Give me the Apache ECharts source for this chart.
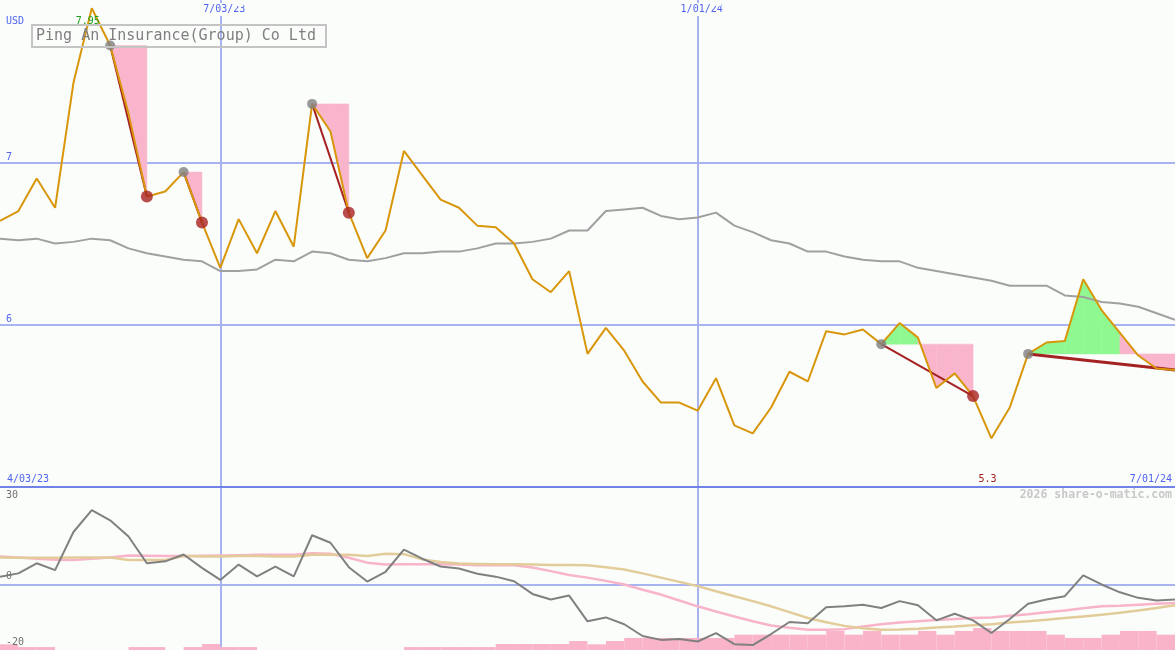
<!DOCTYPE html>
<html><head><meta charset="utf-8">
<script src="https://cdn.jsdelivr.net/npm/echarts@6/dist/echarts.min.js"></script>
<style>html,body{margin:0;padding:0;background:#fbfdfb}#c{width:1175px;height:650px}</style>
</head><body><div id="c"></div>
<script>
// ---- categories: weekly points ----
const weeks = [];
(function(){ const d0 = Date.UTC(2023,3,10); for (let k=0;k<65;k++){ const d=new Date(d0+k*7*86400000); weeks.push(d.toISOString().slice(0,10)); } })();
const intervals = weeks.slice(0,64);

// ---- tick labels ----
const tickIndex = [0, 12, 38, 64];
const tickText  = ['4/03/23', '7/03/23', '1/01/24', '7/01/24'];
const priceTicks = [6, 7];
const oscTicksLow = [0, -20];
const oscTicksTop = [30];

// ---- price (USD) ----
const price = [6.64,6.70,6.90,6.72,7.49,7.95,7.72,7.30,6.79,6.82,
               6.94,6.63,6.35,6.65,6.44,6.70,6.48,7.36,7.19,6.69,
               6.41,6.58,7.07,6.92,6.77,6.72,6.61,6.60,6.50,6.28,
               6.20,6.33,5.82,5.98,5.84,5.65,5.52,5.52,5.47,5.67,
               5.38,5.33,5.49,5.71,5.65,5.96,5.94,5.97,5.88,6.01,
               5.92,5.61,5.70,5.56,5.30,5.49,5.82,5.89,5.90,6.28,
               6.09,5.95,5.81,5.73,5.72];
// ---- moving average ----
const avg = [6.53,6.52,6.53,6.50,6.51,6.53,6.52,6.47,6.44,6.42,
             6.40,6.39,6.33,6.33,6.34,6.40,6.39,6.45,6.44,6.40,
             6.39,6.41,6.44,6.44,6.45,6.45,6.47,6.50,6.50,6.51,
             6.53,6.58,6.58,6.70,6.71,6.72,6.67,6.65,6.66,6.69,
             6.61,6.57,6.52,6.50,6.45,6.45,6.42,6.40,6.39,6.39,
             6.35,6.33,6.31,6.29,6.27,6.24,6.24,6.24,6.18,6.17,
             6.14,6.13,6.11,6.07,6.03];
// ---- signals ----
const sigStart = [6, 10, 17, 48, 56];
const sigEnd   = [8, 11, 19, 53, 64];
const sigClosed = [true, true, true, true, false];

// ---- lower panel ----
const osc = [2.5,3.5,6.6,4.5,16.2,22.9,19.8,14.8,6.6,7.2,
             9.3,5.2,1.5,6.2,2.6,5.6,2.6,15.2,12.9,5.4,
             1.0,4.0,10.8,8.0,5.6,5.0,3.4,2.5,1.1,-2.8,
             -4.5,-3.3,-11.2,-10.0,-12.1,-15.7,-16.9,-16.6,-17.4,-14.8,
             -18.2,-18.5,-15.1,-11.4,-11.8,-6.9,-6.6,-6.1,-7.1,-5.0,
             -6.3,-10.9,-8.9,-10.9,-14.8,-10.5,-5.8,-4.5,-3.5,2.9,
             0.1,-2.3,-4.0,-4.8,-4.5];
const oscPink = [8.7,8.4,8.0,7.7,7.6,8.0,8.4,9.0,8.9,8.8,
                 8.8,8.9,9.0,9.1,9.2,9.2,9.2,9.7,9.5,8.3,
                 6.8,6.2,6.3,6.3,6.3,6.2,6.0,6.0,6.0,5.3,
                 4.2,3.0,2.2,1.2,0.1,-1.5,-3.0,-4.8,-6.6,-8.2,
                 -9.7,-11.2,-12.5,-13.2,-13.8,-13.8,-13.6,-12.8,-12.1,-11.6,
                 -11.2,-10.8,-10.5,-10.2,-10.0,-9.5,-9.0,-8.4,-7.9,-7.2,
                 -6.6,-6.4,-6.1,-5.8,-5.6];
const oscTan = [8.4,8.3,8.3,8.3,8.4,8.4,8.4,7.6,7.6,7.6,
                8.8,8.7,8.7,8.8,8.8,8.7,8.7,9.2,9.2,9.2,
                8.8,9.5,9.4,7.8,7.0,6.5,6.4,6.3,6.3,6.2,
                6.1,6.1,6.0,5.4,4.7,3.5,2.2,0.9,-0.4,-2.0,
                -3.5,-5.0,-6.6,-8.4,-10.2,-11.5,-12.6,-13.3,-13.8,-13.7,
                -13.5,-13.1,-12.8,-12.4,-12.1,-11.6,-11.2,-10.7,-10.2,-9.7,
                -9.2,-8.6,-7.9,-7.1,-6.3];
// weekly volume (relative), one per interval
const volume = [3.5,1.8,1.8,0,0,0,0,1.8,1.8,0,
                1.8,3.7,1.8,1.8,0,0,0,0,0,0,
                0,0,1.8,1.8,1.8,1.8,1.8,3.7,3.7,3.7,
                3.7,5.5,3.5,5.5,7.4,7.4,7.4,7.4,7.4,7.4,
                9.4,9.4,9.4,9.4,9.4,11.7,9.4,11.7,9.4,9.4,
                11.7,9.4,11.7,13.5,11.7,11.7,11.7,9.4,7.4,7.4,
                9.4,11.7,11.7,9.4];

const BG = '#fbfdfb';
const MONO = 'DejaVu Sans Mono';
const BLUE_TXT = '#5064f0';
const GRID_LINE = '#a8b4f0';

// fill polygons data: each interval inside a signal, level = start price
const fillData = [];
sigStart.forEach((s, k) => { for (let i = s; i < sigEnd[k]; i++) fillData.push([i, price[s]]); });

const series = [];
series.push({
  type: 'custom', xAxisIndex: 0, yAxisIndex: 0, z: 1, silent: true,
  encode: { x: 0, y: 1 },
  data: fillData,
  renderItem: function (params, api) {
    const i = api.value(0), L = api.value(1);
    const p0 = price[i], p1 = price[i + 1];
    const col = p1 > L ? '#90f890' : '#f9b5cb';
    return { type: 'polygon', shape: { points: [api.coord([i, L]), api.coord([i, p0]), api.coord([i + 1, p1]), api.coord([i + 1, L])] },
             style: { fill: col, stroke: col, lineWidth: 0.5 } };
  }
});
series.push({ type: 'line', xAxisIndex: 0, yAxisIndex: 0, z: 2, data: avg, symbol: 'none', lineStyle: { color: '#a0a0a0', width: 2 } });
sigStart.forEach((s, k) => {
  series.push({ type: 'line', xAxisIndex: 0, yAxisIndex: 0, z: 3, symbol: 'none',
    data: [[s, price[s]], [sigEnd[k], price[sigEnd[k]]]],
    lineStyle: { color: '#a42222', width: sigClosed[k] ? 2 : 3 } });
});
series.push({ type: 'line', xAxisIndex: 0, yAxisIndex: 0, z: 4, data: price, symbol: 'none',
  lineStyle: { color: '#d8960a', width: 2 },
  markPoint: { symbol: 'circle', symbolSize: 1, itemStyle: { color: 'rgba(0,0,0,0)' },
    label: { show: true, fontFamily: MONO, fontSize: 10, formatter: p => String(+p.value) },
    data: [ { type: 'max', label: { offset: [-4, 13], color: '#22a022' } },
            { type: 'min', label: { offset: [-4, 41], color: '#a02020' } } ] }
});
series.push({ type: 'scatter', xAxisIndex: 0, yAxisIndex: 0, z: 5, symbolSize: 10,
  itemStyle: { color: '#808080' }, data: sigStart.map(s => [s, price[s]]) });
series.push({ type: 'scatter', xAxisIndex: 0, yAxisIndex: 0, z: 5, symbolSize: 12,
  itemStyle: { color: '#a82020' }, data: sigEnd.filter((e, k) => sigClosed[k]).map(e => [e, price[e]]) });

// lower panel
series.push({ type: 'bar', xAxisIndex: 4, yAxisIndex: 3, z: 1, data: volume, barWidth: '100%', barCategoryGap: 0,
  itemStyle: { color: '#f9b4c9' } });
series.push({ type: 'line', xAxisIndex: 3, yAxisIndex: 1, z: 2, data: oscPink, symbol: 'none', lineStyle: { color: '#f8b4c8', width: 2.5 } });
series.push({ type: 'line', xAxisIndex: 3, yAxisIndex: 1, z: 2, data: oscTan, symbol: 'none', lineStyle: { color: '#e2cc9a', width: 2.5 } });
series.push({ type: 'line', xAxisIndex: 3, yAxisIndex: 1, z: 3, data: osc, symbol: 'none', lineStyle: { color: '#808080', width: 2 },
  markLine: { silent: true, symbol: 'none', label: { show: false }, z: 0,
    lineStyle: { color: GRID_LINE, width: 2, type: 'solid' }, data: [{ yAxis: 0 }] } });

const lbl = (idx) => (v, i) => { const t = tickIndex.indexOf(i); return (t >= 0 && idx.includes(i)) ? tickText[t] : ''; };

const option = {
  animation: false,
  backgroundColor: BG,
  title: [
    { text: 'Ping An Insurance(Group) Co Ltd', left: 32, top: 25, padding: [4, 10, 3, 4],
      borderWidth: 2, borderColor: '#c4c4c4',
      textStyle: { fontFamily: MONO, fontSize: 15, fontWeight: 'normal', color: '#808080' } },
    { text: '2026 share-o-matic.com', right: 3, top: 489, padding: 0,
      textStyle: { fontFamily: MONO, fontSize: 11.5, fontWeight: 'bold', color: '#c8c8c8' } }
  ],
  grid: [
    { left: 0, right: 0, top: 0, height: 487, outerBoundsMode: 'none', containLabel: false },
    { left: 0, right: 0, top: 487, height: 163, outerBoundsMode: 'none', containLabel: false }
  ],
  xAxis: [
    { gridIndex: 0, type: 'category', data: weeks, boundaryGap: false, position: 'bottom',
      axisLine: { show: true, lineStyle: { color: '#7283e8', width: 2 } }, axisTick: { show: false },
      axisLabel: { show: true, inside: true, interval: 0, margin: 3, align: 'left', padding: [0, 0, 0, 7],
        fontFamily: MONO, fontSize: 10, color: BLUE_TXT, formatter: lbl([0]) },
      splitLine: { show: true, interval: (i) => i === tickIndex[1] || i === tickIndex[2], lineStyle: { color: GRID_LINE, width: 2 } } },
    { gridIndex: 0, type: 'category', data: weeks, boundaryGap: false, position: 'bottom',
      axisLine: { show: false }, axisTick: { show: false }, splitLine: { show: false },
      axisLabel: { show: true, inside: true, interval: 0, margin: 3, align: 'right', padding: [0, 3, 0, 0],
        fontFamily: MONO, fontSize: 10, color: BLUE_TXT, formatter: lbl([64]) } },
    { gridIndex: 0, type: 'category', data: weeks, boundaryGap: false, position: 'top',
      axisLine: { show: false }, axisTick: { show: false }, splitLine: { show: false },
      axisLabel: { show: true, inside: true, interval: 0, margin: 3, padding: [1, 1, 2, 9], backgroundColor: BG,
        fontFamily: MONO, fontSize: 10, color: BLUE_TXT, formatter: lbl([12, 38]) } },
    { gridIndex: 1, type: 'category', data: weeks, boundaryGap: false,
      axisLine: { show: false }, axisTick: { show: false }, axisLabel: { show: false },
      splitLine: { show: true, interval: (i) => i === tickIndex[1] || i === tickIndex[2], lineStyle: { color: GRID_LINE, width: 2 } } },
    { gridIndex: 1, type: 'category', data: intervals, boundaryGap: true, show: false }
  ],
  yAxis: [
    { gridIndex: 0, type: 'value', min: 5, max: 8, interval: 1, position: 'left',
      name: 'USD', nameLocation: 'end', nameGap: -26,
      nameTextStyle: { fontFamily: MONO, fontSize: 10, color: BLUE_TXT, align: 'left', padding: [0, 0, 0, 6] },
      axisLine: { show: false }, axisTick: { show: false },
      axisLabel: { inside: true, margin: 6, verticalAlign: 'bottom', fontFamily: MONO, fontSize: 10, color: BLUE_TXT,
        formatter: v => priceTicks.includes(v) ? String(v) : '' },
      splitLine: { show: true, showMinLine: false, showMaxLine: false, lineStyle: { color: GRID_LINE, width: 2 } } },
    { gridIndex: 1, type: 'value', min: -20, max: 30, interval: 10, position: 'left', z: 10,
      axisLine: { show: false }, axisTick: { show: false }, splitLine: { show: false },
      axisLabel: { inside: true, margin: 6, verticalAlign: 'bottom', padding: [0, 0, 3, 0], fontFamily: MONO, fontSize: 10, color: '#707070',
        formatter: v => oscTicksLow.includes(v) ? String(v) : '' } },
    { gridIndex: 1, type: 'value', min: -20, max: 30, interval: 10, position: 'left', z: 10,
      axisLine: { show: false }, axisTick: { show: false }, splitLine: { show: false },
      axisLabel: { inside: true, margin: 6, verticalAlign: 'top', padding: [3, 0, 0, 0], fontFamily: MONO, fontSize: 10, color: '#707070',
        formatter: v => oscTicksTop.includes(v) ? String(v) : '' } },
    { gridIndex: 1, type: 'value', min: 0, max: 100, show: false, splitLine: { show: false } }
  ],
  series: series
};
const chart = echarts.init(document.getElementById('c'), null, { renderer: 'canvas' });
chart.setOption(option);
</script></body></html>
